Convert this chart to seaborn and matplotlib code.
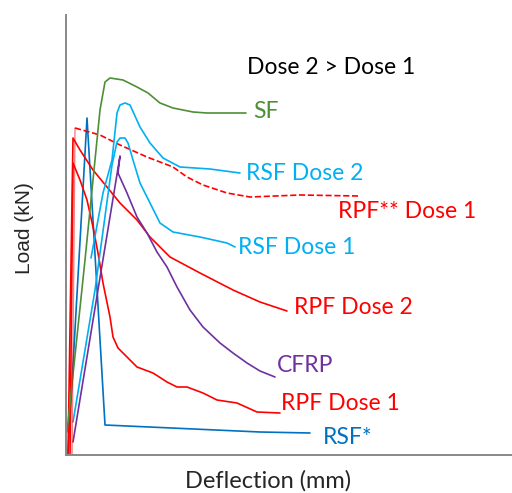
import matplotlib
matplotlib.use("Agg")
import matplotlib.pyplot as plt
import seaborn as sns

# Кривые (условные единицы: прогиб / нагрузка)
sf_x = [1, 19, 34, 39, 44, 57, 71, 82, 94, 107, 127, 141, 180]
sf_y = [23, 195, 345, 373, 377, 375, 368, 362, 352, 347, 343, 342, 342]

rsf2_x = [25, 37, 46, 51, 54, 59, 64, 74, 84, 97, 114, 144, 174]
rsf2_y = [197, 262, 295, 342, 350, 352, 350, 328, 312, 297, 288, 286, 282]

rsf1_x = [7, 29, 46, 51, 54, 59, 62, 67, 74, 84, 94, 107, 134, 161, 169]
rsf1_y = [33, 165, 290, 313, 317, 317, 312, 295, 272, 252, 232, 223, 218, 212, 208]

rpfss_rise_x = [6, 9]
rpfss_rise_y = [0, 327]
rpfss_x = [9, 34, 54, 81, 107, 121, 137, 161, 184, 234, 292]
rpfss_y = [327, 320, 310, 298, 288, 278, 270, 262, 258, 260, 259]

rpf2_x = [2, 7, 14, 27, 41, 54, 71, 84, 104, 134, 167, 194, 221]
rpf2_y = [0, 317, 305, 285, 268, 252, 235, 218, 198, 182, 165, 153, 144]

rpf1_x = [4, 7, 14, 21, 27, 32, 37, 44, 47, 52, 64, 71, 87, 101, 111, 121, 137, 151, 171, 191, 214]
rpf1_y = [0, 292, 275, 255, 228, 202, 172, 138, 118, 107, 95, 88, 82, 73, 68, 68, 62, 55, 52, 43, 42]

cfrp_x = [7, 54, 52, 61, 71, 81, 91, 101, 111, 124, 137, 154, 167, 181, 194, 209]
cfrp_y = [13, 299, 282, 262, 238, 222, 203, 188, 168, 145, 128, 112, 102, 92, 84, 78]

rsfs_x = [2, 21, 39, 194, 244]
rsfs_y = [2, 337, 30, 23, 22]

GREEN = "#4e8f35"
CYAN = "#00b0f0"
RED = "#ff0000"
PURPLE = "#7030a0"
BLUE = "#0070c0"

sns.set_style("white")
plt.rcParams["font.family"] = ["Lato", "DejaVu Sans"]

fig = plt.figure(figsize=(5.12, 4.93), dpi=100)
ax = fig.add_axes([66 / 512, 38 / 493, 446 / 512, 440 / 493])

curves = [
    (rsfs_x, rsfs_y, BLUE, "-"),
    (rpf2_x, rpf2_y, RED, "-"),
    (rpf1_x, rpf1_y, RED, "-"),
    (rpfss_x, rpfss_y, RED, "--"),
    (sf_x, sf_y, GREEN, "-"),
    (rsf1_x, rsf1_y, CYAN, "-"),
    (rsf2_x, rsf2_y, CYAN, "-"),
    (cfrp_x, cfrp_y, PURPLE, "-"),
]
for xs, ys, c, ls in curves:
    sns.lineplot(x=xs, y=ys, ax=ax, color=c, linestyle=ls, linewidth=1.2,
                 sort=False, estimator=None)
sns.lineplot(x=rpfss_rise_x, y=rpfss_rise_y, ax=ax, color=RED, alpha=0.5,
             linewidth=1.0, sort=False, estimator=None)

# Подписи
fs = 16.5
ax.text(181, 387, "Dose 2 > Dose 1", color="black", fontsize=fs, va="center")
ax.text(187, 343, "SF", color=GREEN, fontsize=fs, va="center")
ax.text(180, 282, "RSF Dose 2", color=CYAN, fontsize=fs, va="center")
ax.text(272, 244, "RPF** Dose 1", color=RED, fontsize=fs, va="center")
ax.text(172, 208, "RSF Dose 1", color=CYAN, fontsize=fs, va="center")
ax.text(228, 147, "RPF Dose 2", color=RED, fontsize=fs, va="center")
ax.text(211, 89, "CFRP", color=PURPLE, fontsize=fs, va="center")
ax.text(215, 51, "RPF Dose 1", color=RED, fontsize=fs, va="center")
ax.text(257, 17, "RSF*", color=BLUE, fontsize=fs, va="center")

ax.set_xlim(0, 446)
ax.set_ylim(0, 440)
ax.set_xticks([])
ax.set_yticks([])
sns.despine(ax=ax)
for side in ["left", "bottom"]:
    ax.spines[side].set_color("#888888")
    ax.spines[side].set_linewidth(1.4)

ax.set_xlabel("Deflection (mm)", fontsize=17)
ax.xaxis.set_label_coords(0.453, -0.035, transform=ax.transAxes)
ax.xaxis.label.set_va("top")
ax.set_ylabel("Load (kN)", fontsize=15, family=["Liberation Sans"])
ax.yaxis.set_label_coords(-0.092, 0.516, transform=ax.transAxes)
ax.yaxis.label.set_va("center")

fig.savefig("out.png", dpi=100)
